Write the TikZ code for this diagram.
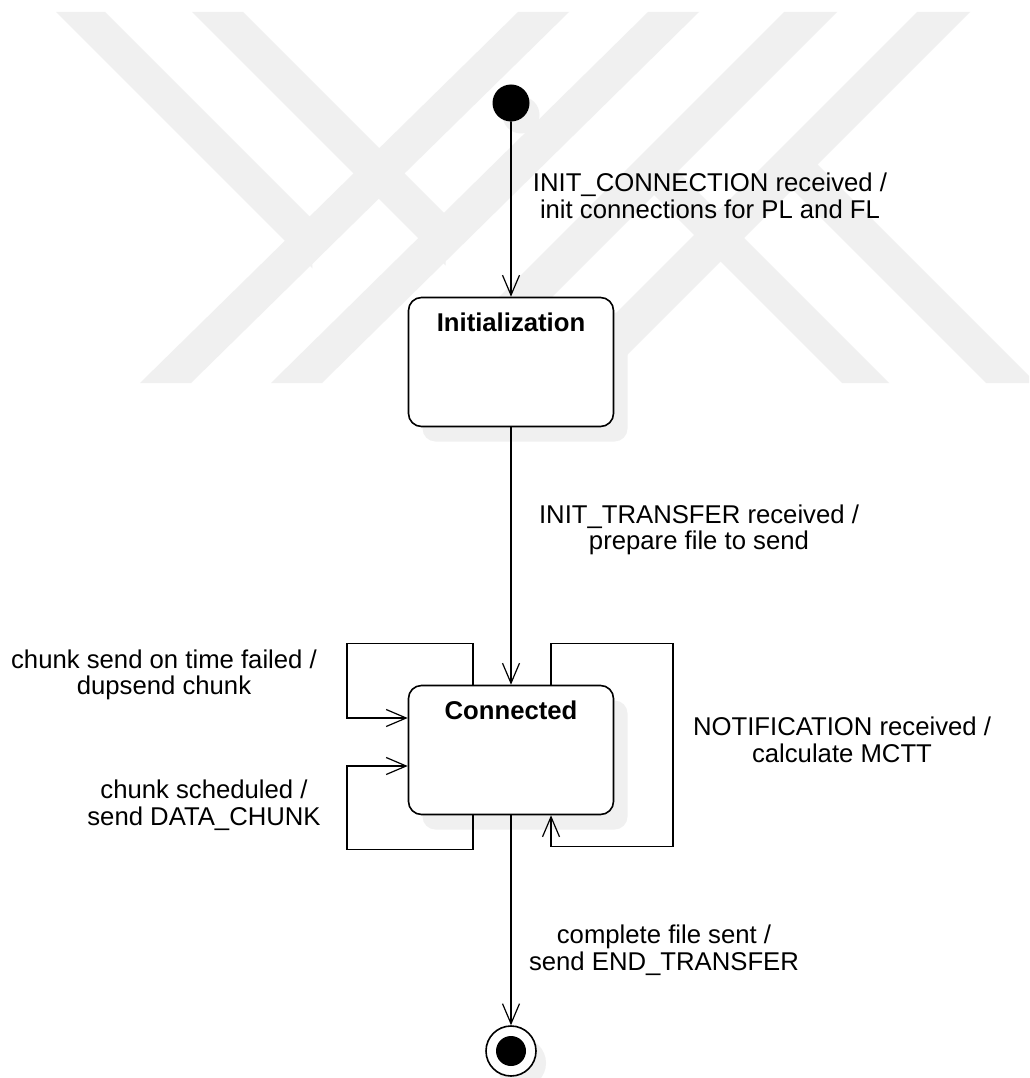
\documentclass[tikz,border=0pt]{standalone}
\usepackage{fontspec}
\setmainfont{Liberation Sans}
\usepackage{tikz}
\usetikzlibrary{arrows.meta,shadows}
\newcommand\diagfont{\fontsize{25.7}{26.5}\selectfont}

\begin{document}
\begin{tikzpicture}
	[x=1pt,y=-1pt,line cap=round,font=\diagfont,
	%Styles
	state/.style={rectangle,rounded corners=13pt,draw,line width=1.6pt,fill=white,
		minimum width=205pt,minimum height=129pt,
		drop shadow={shadow xshift=14pt,shadow yshift=-15pt,fill=shadowgray,opacity=1},
		label={[state title]north:#1}},
	state title/.style={anchor=center,yshift=-26pt,inner sep=0pt,font=\diagfont\bfseries},
	initial state/.style={circle,fill=black,minimum size=37pt,inner sep=0pt,
		drop shadow={shadow xshift=10pt,shadow yshift=-12pt,fill=shadowgray,opacity=1}},
	final state/.style={circle,draw,line width=1.6pt,fill=white,minimum size=50pt,inner sep=0pt,
		drop shadow={shadow xshift=10pt,shadow yshift=-12pt,fill=shadowgray,opacity=1}},
	trans/.style={line width=1.2pt,-{Straight Barb[length=20pt,width=17pt]}},
	trans label/.style={align=center,inner sep=0pt},
	band/.style={fill=markgray}
	]
	
	%Colors
	\colorlet{shadowgray}{black!6}	%drop shadows
	\colorlet{markgray}{black!6}	%background mark
	
	\fill[white] (0,0) rectangle (1029,1078);
	\useasboundingbox (0,0) rectangle (1029,1078);
	
	%Background mark
	\begin{scope}
		\clip (0,12) rectangle (1029,383);
		\fill[band] (518,12) -- (569,12) -- (191,383) -- (140,383) -- cycle;
		\fill[band] (648,12) -- (699,12) -- (322,383) -- (271,383) -- cycle;
		\fill[band] (56,12) -- (105,12) -- (311.5,218.5) -- (312.5,268.5) -- cycle;
		\fill[band] (192,12) -- (243,12) -- (445.5,214.5) -- (445.5,265.5) -- cycle;
		\fill[band] (784,12) -- (837,12) -- (466,383) -- (413,383) -- cycle;
		\fill[band] (917,12) -- (970,12) -- (599,383) -- (546,383) -- cycle;
		\fill[band] (842,383) -- (889,383) -- (677.5,171.5) -- (627.5,168.5) -- cycle;
		\fill[band] (986,383) -- (1036,383) -- (817.5,164.5) -- (766,163) -- cycle;
	\end{scope}
	
	%The graphic
	\node[initial state] (init) at (511,103) {};
	\node[state=Initialization] (initialization) at (511,362) {};
	\node[state=Connected] (connected) at (511,750) {};
	\node[final state] (final) at (511,1051) {};
	\fill (final.center) circle (15pt);
	
	\draw[trans] (init) -- (initialization);
	\draw[trans] (initialization) -- (connected);
	\draw[trans] (connected) -- (final);
	
	\draw[trans] ([xshift=-38pt]connected.north) -- ++(0,-41) -- ++(-126,0)
		|- ([yshift=32pt]connected.west);
	\draw[trans] ([xshift=-38pt]connected.south) -- ++(0,34) -- ++(-126,0)
		|- ([yshift=-16pt]connected.west);
	\draw[trans] ([xshift=40pt]connected.north) -- ++(0,-41) -- ++(122,0)
		-- ++(0,203) -| ([xshift=40pt]connected.south);
	
	\node[trans label] (lbl connection) at (710,196) {INIT\_CONNECTION received /\\init connections for PL and FL};
	\node[trans label] (lbl transfer) at (699,530) {INIT\_TRANSFER received /\\prepare file to send};
	\node[trans label] (lbl failed) at (164,675) {chunk send on time failed /\\dupsend chunk};
	\node[trans label] (lbl scheduled) at (204,805) {chunk scheduled /\\send DATA\_CHUNK};
	\node[trans label] (lbl notification) at (842,740) {NOTIFICATION received /\\calculate MCTT};
	\node[trans label] (lbl complete) at (664,950) {complete file sent /\\send END\_TRANSFER};
\end{tikzpicture}
\end{document}
